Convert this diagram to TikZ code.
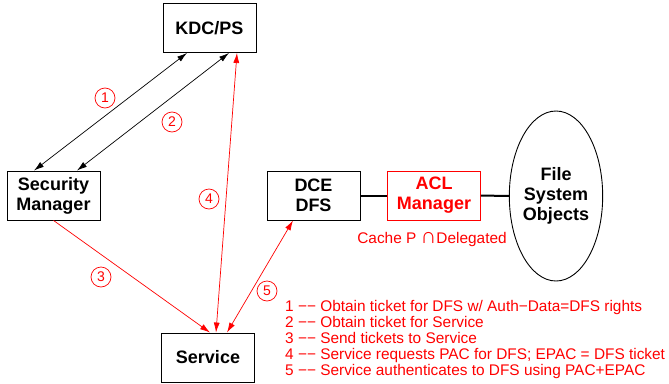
\documentclass[tikz,border=0pt]{standalone}
\usepackage{fontspec}
\setmainfont{Liberation Sans}
\usetikzlibrary{arrows.meta, shapes.geometric}
\newcommand{\boxFont}[0]{\fontsize{18}{20}\selectfont\bfseries}
\newcommand{\smallFont}[0]{\fontsize{14}{16}\selectfont}
\newcommand{\legendFont}[0]{\fontsize{15.4}{16}\selectfont}

\begin{document}
\begin{tikzpicture}[x=1pt, y=-1pt]
  \tikzset{every node/.style={align=center, inner sep=0pt},
           box/.style={draw, line width=0.9pt, minimum width=93pt, minimum height=49pt, font=\boxFont},
           redbox/.style={box, draw=red, text=red},
           num/.style={circle, draw=red, text=red, line width=0.7pt, minimum size=20pt, font=\smallFont},
           link/.style={line width=0.7pt, {Latex[length=10pt,width=6pt]}-{Latex[length=10pt,width=6pt]}},
           redlink/.style={link, red}}
  \useasboundingbox (0,0) rectangle (669,383);
  % boxes
  \node[box] (kdc) at (209.5,28) {KDC/PS};
  \node[box] (sm) at (53.5,195.5) {Security\\Manager};
  \node[box] (svc) at (208,357.5) {Service};
  \node[box] (dfs) at (313.5,195.5) {DCE\\DFS};
  \node[redbox] (acl) at (434,195.5) {ACL\\Manager};
  \node[draw, ellipse, line width=0.9pt, minimum width=86pt, minimum height=170pt, font=\boxFont] (fso) at (556,196) {File\\System\\Objects};
  % connectors
  \draw[link] ([xshift=-19.5pt]sm.north) -- ([xshift=-22.5pt]kdc.south);
  \draw[link] ([xshift=23.5pt]sm.north) -- ([xshift=19.5pt]kdc.south);
  \draw[redlink] ([xshift=8pt]svc.north) -- ([xshift=27.5pt]kdc.south);
  \draw[red, line width=0.7pt, -{Latex[length=10pt,width=6pt]}] (sm.south) -- ([xshift=2pt]svc.north);
  \draw[redlink] ([xshift=19pt]svc.north) -- ([xshift=-20.5pt]dfs.south);
  \draw[line width=2pt] (dfs) -- (acl);
  \draw[line width=2pt] (acl) -- (fso);
  % step numbers
  \node[num] (n1) at (105,98) {1};
  \node[num] (n2) at (172,122) {2};
  \node[num] (n3) at (101,277) {3};
  \node[num] (n4) at (209,199) {4};
  \node[num] (n5) at (267,291) {5};
  \node[text=red, font=\legendFont, anchor=base] (cache) at (432,243) {Cache P {\fontsize{22}{22}\selectfont ∩}Delegated};
  % legend
  \node[text=red, font=\legendFont, align=left, anchor=north west] (legend) at (285,300) {%
    1 −− Obtain ticket for DFS w/ Auth−Data=DFS rights\\
    2 −− Obtain ticket for Service\\
    3 −− Send tickets to Service\\
    4 −− Service requests PAC for DFS; EPAC = DFS ticket\\
    5 −− Service authenticates to DFS using PAC+EPAC};
\end{tikzpicture}
\end{document}
